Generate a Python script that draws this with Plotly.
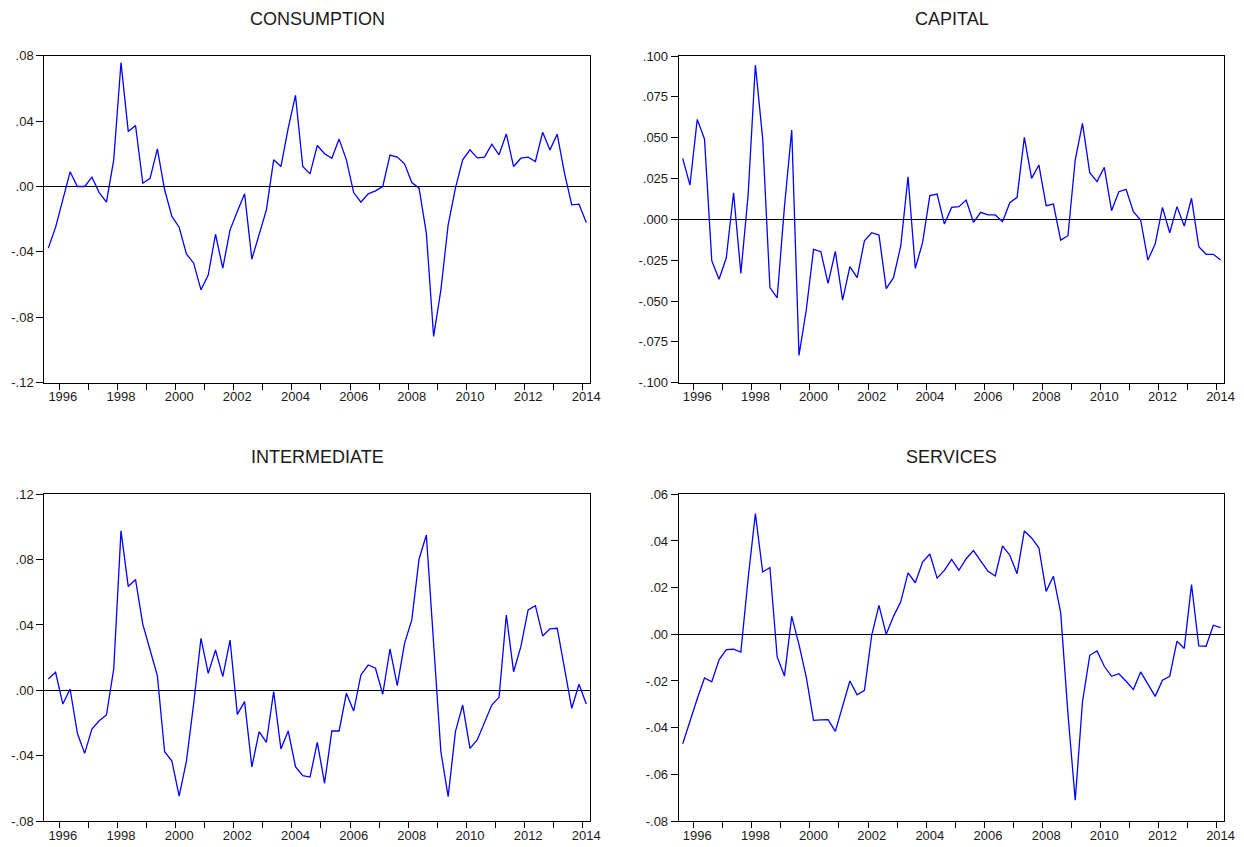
import pandas as pd
import plotly.graph_objects as go

# ---------------- data ----------------
quarters = pd.period_range("1995Q3", "2014Q1", freq="Q")

consumption = [
    -0.0377, -0.0250, -0.0080, 0.0090, 0.0000, 0.0000, 0.0057, -0.0037, -0.0096, 0.0163,
    0.0758, 0.0336, 0.0373, 0.0020, 0.0050, 0.0230, -0.0020, -0.0183, -0.0249, -0.0412,
    -0.0469, -0.0632, -0.0542, -0.0292, -0.0500, -0.0265, -0.0153, -0.0045, -0.0444, -0.0285,
    -0.0143, 0.0163, 0.0122, 0.0357, 0.0557, 0.0122, 0.0077, 0.0251, 0.0200, 0.0173,
    0.0290, 0.0163, -0.0037, -0.0096, -0.0045, -0.0027, 0.0000, 0.0192, 0.0180, 0.0139,
    0.0024, -0.0010, -0.0285, -0.0917, -0.0632, -0.0234, -0.0010, 0.0163, 0.0224, 0.0175,
    0.0180, 0.0259, 0.0194, 0.0322, 0.0122, 0.0173, 0.0180, 0.0153, 0.0332, 0.0224,
    0.0320, 0.0082, -0.0112, -0.0108, -0.0220,
]

capital = [
    0.0373, 0.0210, 0.0612, 0.0492, -0.0253, -0.0367, -0.0235, 0.0163, -0.0331, 0.0149,
    0.0945, 0.0496, -0.0418, -0.0480, 0.0078, 0.0547, -0.0833, -0.0555, -0.0184, -0.0198,
    -0.0392, -0.0196, -0.0494, -0.0290, -0.0357, -0.0131, -0.0082, -0.0096, -0.0424, -0.0357,
    -0.0163, 0.0261, -0.0300, -0.0143, 0.0145, 0.0155, -0.0029, 0.0073, 0.0078, 0.0118,
    -0.0018, 0.0043, 0.0027, 0.0027, -0.0014, 0.0102, 0.0135, 0.0502, 0.0251, 0.0333,
    0.0084, 0.0094, -0.0127, -0.0100, 0.0363, 0.0588, 0.0286, 0.0231, 0.0318, 0.0053,
    0.0169, 0.0184, 0.0047, -0.0004, -0.0249, -0.0151, 0.0073, -0.0082, 0.0078, -0.0041,
    0.0129, -0.0167, -0.0214, -0.0214, -0.0249,
]

intermediate = [
    0.0069, 0.0110, -0.0084, 0.0008, -0.0263, -0.0386, -0.0237, -0.0186, -0.0151, 0.0131,
    0.0976, 0.0635, 0.0678, 0.0404, 0.0247, 0.0090, -0.0376, -0.0433, -0.0647, -0.0433,
    -0.0080, 0.0318, 0.0104, 0.0247, 0.0084, 0.0308, -0.0147, -0.0069, -0.0469, -0.0253,
    -0.0318, -0.0008, -0.0359, -0.0249, -0.0467, -0.0522, -0.0531, -0.0318, -0.0569, -0.0249,
    -0.0249, -0.0018, -0.0127, 0.0094, 0.0155, 0.0135, -0.0024, 0.0253, 0.0029, 0.0288,
    0.0431, 0.0804, 0.0951, 0.0290, -0.0376, -0.0651, -0.0253, -0.0090, -0.0355, -0.0304,
    -0.0202, -0.0090, -0.0043, 0.0461, 0.0114, 0.0267, 0.0492, 0.0518, 0.0333, 0.0376,
    0.0380, 0.0135, -0.0110, 0.0037, -0.0084,
]

services = [
    -0.0469, -0.0369, -0.0276, -0.0187, -0.0204, -0.0109, -0.0066, -0.0064, -0.0076, 0.0239,
    0.0517, 0.0267, 0.0286, -0.0097, -0.0179, 0.0077, -0.0044, -0.0183, -0.0369, -0.0367,
    -0.0366, -0.0416, -0.0304, -0.0200, -0.0259, -0.0240, -0.0004, 0.0124, 0.0000, 0.0077,
    0.0139, 0.0263, 0.0221, 0.0310, 0.0344, 0.0241, 0.0274, 0.0321, 0.0274, 0.0324,
    0.0359, 0.0317, 0.0270, 0.0250, 0.0379, 0.0339, 0.0260, 0.0443, 0.0413, 0.0371,
    0.0184, 0.0249, 0.0093, -0.0340, -0.0711, -0.0290, -0.0090, -0.0071, -0.0137, -0.0180,
    -0.0169, -0.0201, -0.0237, -0.0161, -0.0216, -0.0266, -0.0197, -0.0180, -0.0029, -0.0061,
    0.0213, -0.0050, -0.0051, 0.0039, 0.0029,
]

titles = ["CONSUMPTION", "CAPITAL", "INTERMEDIATE", "SERVICES"]

year_labels = list(range(1996, 2015, 2))
year_ticks = list(range(1996, 2015))

cons_ticks = [0.08, 0.04, 0.00, -0.04, -0.08, -0.12]
cons_text = [".08", ".04", ".00", "-.04", "-.08", "-.12"]
cap_ticks = [0.100, 0.075, 0.050, 0.025, 0.000, -0.025, -0.050, -0.075, -0.100]
cap_text = [".100", ".075", ".050", ".025", ".000", "-.025", "-.050", "-.075", "-.100"]
int_ticks = [0.12, 0.08, 0.04, 0.00, -0.04, -0.08]
int_text = [".12", ".08", ".04", ".00", "-.04", "-.08"]
serv_ticks = [0.06, 0.04, 0.02, 0.00, -0.02, -0.04, -0.06, -0.08]
serv_text = [".06", ".04", ".02", ".00", "-.02", "-.04", "-.06", "-.08"]

# ---------------- figure ----------------
x = [p.year + (p.quarter - 1) / 4 for p in quarters]

W, H = 1244, 847
FONT = "Liberation Sans, Arial, sans-serif"

panels = [
    (consumption, cons_ticks, cons_text, [-0.12, 0.08], (44.3, 590.0), (55.7, 382.7)),
    (capital, cap_ticks, cap_text, [-0.10, 0.10], (678.7, 1224.3), (56.0, 382.7)),
    (intermediate, int_ticks, int_text, [-0.08, 0.12], (44.3, 590.0), (494.3, 821.0)),
    (services, serv_ticks, serv_text, [-0.08, 0.06], (678.7, 1224.3), (494.3, 821.0)),
]

fig = go.Figure()
layout = dict(
    width=W, height=H,
    margin=dict(l=0, r=0, t=0, b=0, autoexpand=False),
    paper_bgcolor="white", plot_bgcolor="white",
    showlegend=False,
    font=dict(family=FONT, size=12, color="#1a1a1a"),
)
annotations = []

xr = [x[0] - 0.1375, x[-1] + 0.1275]

for k, (vals, tv, tt, yr, (px0, px1), (py0, py1)) in enumerate(panels):
    n = "" if k == 0 else str(k + 1)
    fig.add_trace(go.Scatter(
        x=x, y=vals, mode="lines",
        line=dict(color="#0000ff", width=1.3),
        xaxis="x" + n, yaxis="y" + n, hoverinfo="skip",
    ))
    xd = [px0 / W, px1 / W]
    yd = [1 - py1 / H, 1 - py0 / H]
    layout["xaxis" + n] = dict(
        domain=xd, anchor="y" + n, range=xr,
        tickmode="array", tickvals=year_labels, ticktext=[str(v) for v in year_labels],
        ticks="", showgrid=False, zeroline=False,
        showline=True, linecolor="black", linewidth=1, mirror=True,
        tickfont=dict(family=FONT, size=13, color="#1a1a1a"),
        minor=dict(tickmode="array", tickvals=[v - 0.125 for v in year_ticks],
                   ticks="outside", ticklen=6, tickcolor="black", tickwidth=1,
                   showgrid=False),
        ticklabelstandoff=2,
    )
    layout["yaxis" + n] = dict(
        domain=yd, anchor="x" + n, range=yr,
        tickmode="array", tickvals=tv, ticktext=tt,
        ticks="outside", ticklen=7, tickcolor="black", tickwidth=1,
        showgrid=False,
        zeroline=True, zerolinecolor="black", zerolinewidth=1,
        showline=True, linecolor="black", linewidth=1, mirror=True,
        tickfont=dict(family=FONT, size=13, color="#1a1a1a"),
    )
    annotations.append(dict(
        text=titles[k], x=(xd[0] + xd[1]) / 2, y=1 - (py0 - 37) / H,
        xref="paper", yref="paper", xanchor="center", yanchor="middle",
        showarrow=False, font=dict(family=FONT, size=18, color="#1a1a1a"),
    ))

layout["annotations"] = annotations
fig.update_layout(**layout)
fig.write_html(
    "out.html",
    config={"displayModeBar": False},
    post_script="document.body.style.margin='0';document.body.style.overflow='hidden';",
)
